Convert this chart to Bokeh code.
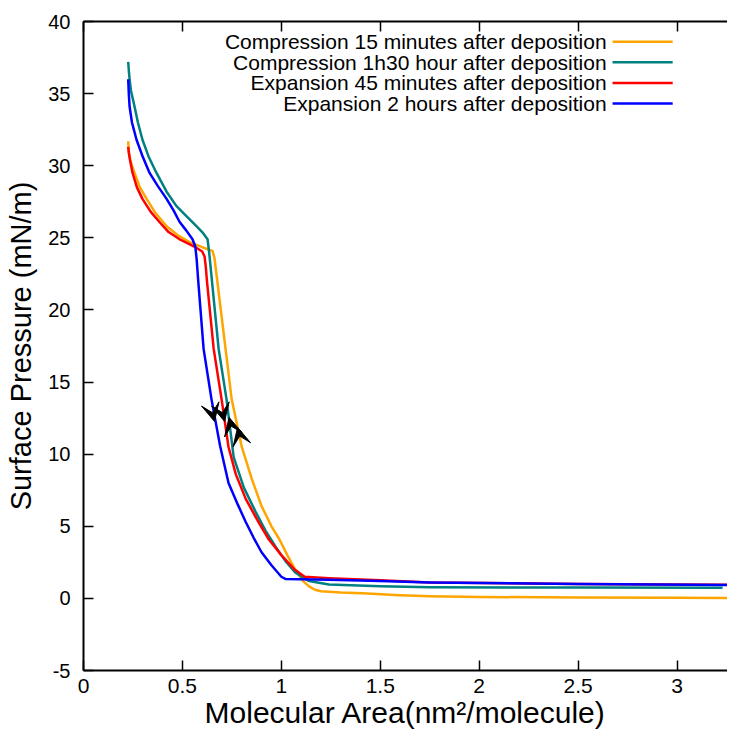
from bokeh.plotting import figure
from bokeh.models import Range1d, LinearAxis, Arrow, VeeHead, FixedTicker, ColumnDataSource
from bokeh.embed import file_html
from bokeh.resources import INLINE
from bokeh.core.properties import value

# ---------------- data ----------------
series_names = [
    "Compression 15 minutes after deposition",
    "Compression 1h30 hour after deposition",
    "Expansion 45 minutes after deposition",
    "Expansion 2 hours after deposition",
]
colors = ["#FFA500", "#008080", "#FF0000", "#0000FF"]

comp15_x = [0.226, 0.229, 0.235, 0.245, 0.258, 0.285, 0.319, 0.365, 0.42, 0.475, 0.536, 0.60,
            0.652, 0.662, 0.718, 0.749, 0.779, 0.80, 0.85, 0.90, 0.95, 0.99,
            1.03, 1.07, 1.11, 1.14, 1.17, 1.20, 1.30, 1.41, 1.60, 1.75, 2.0, 2.5, 3.0, 3.26]
comp15_y = [31.7, 31.0, 30.5, 30.0, 29.5, 28.5, 27.7, 26.7, 25.8, 25.2, 24.7, 24.35,
            24.1, 23.6, 17.3, 13.8, 11.86, 10.5, 8.3, 6.4, 5.0, 4.1,
            3.0, 2.0, 1.2, 0.83, 0.6, 0.5, 0.4, 0.35, 0.22, 0.15, 0.1, 0.06, 0.04, 0.03]

comp90_x = [0.226, 0.229, 0.233, 0.24, 0.258, 0.275, 0.298, 0.33, 0.369, 0.42, 0.47, 0.52,
            0.572, 0.60, 0.627, 0.635, 0.683, 0.723, 0.759, 0.81, 0.87, 0.92, 0.97, 1.02,
            1.07, 1.14, 1.24, 1.50, 1.75, 2.5, 3.23]
comp90_y = [37.2, 36.6, 36.0, 35.2, 34.1, 33.0, 31.8, 30.6, 29.5, 28.2, 27.2, 26.5,
            25.8, 25.4, 24.9, 24.0, 17.3, 13.8, 9.8, 7.7, 6.0, 4.7, 3.6, 2.6,
            1.8, 1.2, 0.97, 0.85, 0.77, 0.75, 0.74]

exp45_x = [0.226, 0.229, 0.235, 0.248, 0.27, 0.298, 0.34, 0.384, 0.43, 0.486, 0.53, 0.572,
           0.60, 0.612, 0.618, 0.624, 0.658, 0.698, 0.733, 0.77, 0.82, 0.88, 0.936,
           1.0, 1.067, 1.118, 1.24, 1.50, 1.75, 2.5, 3.26]
exp45_y = [31.3, 30.9, 30.4, 29.5, 28.5, 27.7, 26.8, 26.1, 25.4, 24.9, 24.6, 24.3,
           24.05, 23.7, 23.0, 22.0, 17.3, 13.8, 10.5, 8.6, 6.9, 5.4, 4.1,
           3.0, 2.0, 1.5, 1.4, 1.25, 1.1, 1.0, 0.95]

exp120_x = [0.226, 0.229, 0.233, 0.245, 0.268, 0.30, 0.334, 0.375, 0.42, 0.455, 0.486, 0.52,
            0.551, 0.565, 0.572, 0.580, 0.607, 0.647, 0.69, 0.733, 0.78, 0.82,
            0.86, 0.90, 0.95, 1.0, 1.02, 1.24, 1.50, 1.75, 2.5, 3.26]
exp120_y = [36.0, 35.0, 34.1, 33.0, 31.8, 30.6, 29.5, 28.6, 27.7, 26.9, 26.1, 25.5,
            24.9, 24.4, 23.5, 22.0, 17.3, 13.8, 10.6, 8.0, 6.5, 5.3,
            4.2, 3.2, 2.3, 1.5, 1.35, 1.3, 1.2, 1.1, 1.0, 0.92]

# direction arrows (tip and tail along each curve)
arrow_tip_x = [0.662, 0.713, 0.736, 0.779]
arrow_tip_y = [12.27, 12.27, 12.55, 11.86]
arrow_tail_x = [0.627, 0.678, 0.771, 0.814]
arrow_tail_y = [14.27, 14.27, 10.55, 9.86]

x_ticks = [0, 0.5, 1, 1.5, 2, 2.5, 3]
x_tick_labels = ["0", "0.5", "1", "1.5", "2", "2.5", "3"]
y_ticks = [-5, 0, 5, 10, 15, 20, 25, 30, 35, 40]
y_tick_labels = ["-5", "0", "5", "10", "15", "20", "25", "30", "35", "40"]

x_title = "Molecular Area(nm\u00b2/molecule)"
y_title = "Surface Pressure (mN/m)"

# legend layout (data units)
legend_y = [38.6, 37.17, 35.74, 34.31]
legend_text_x = 2.644
legend_line_x0 = 2.674
legend_line_x1 = 2.978

FONT = "Liberation Sans"

# ---------------- figure ----------------
p = figure(width=727, height=737, output_backend="svg", toolbar_location=None,
           x_range=Range1d(0, 3.255), y_range=Range1d(-5, 40),
           min_border_left=83, min_border_top=21, min_border_bottom=67, min_border_right=0,
           background_fill_color="white", border_fill_color="white")
p.outline_line_color = None
p.grid.visible = False

all_x = [comp15_x, comp90_x, exp45_x, exp120_x]
all_y = [comp15_y, comp90_y, exp45_y, exp120_y]
for xs, ys, c in zip(all_x, all_y, colors):
    p.line(xs, ys, line_color=c, line_width=2.5, line_join="round")

for tx, ty, sx, sy in zip(arrow_tip_x, arrow_tip_y, arrow_tail_x, arrow_tail_y):
    p.add_layout(Arrow(end=VeeHead(size=18, fill_color="black", line_color="black", line_width=1),
                       x_start=sx, y_start=sy, x_end=tx, y_end=ty, line_alpha=0))

# legend drawn manually: text right-aligned, sample line on the right
leg = ColumnDataSource(dict(
    x=[legend_text_x] * len(series_names), y=legend_y, text=series_names,
    x0=[legend_line_x0] * len(series_names), x1=[legend_line_x1] * len(series_names),
    color=colors))
p.text(x="x", y="y", text="text", source=leg, text_align="right", text_baseline="middle",
       text_font=value(FONT), text_font_size="21px", text_color="black")
p.segment(x0="x0", y0="y", x1="x1", y1="y", source=leg, line_color="color", line_width=2.5)

# axes
xa = p.xaxis[0]
xa.ticker = FixedTicker(ticks=x_ticks)
xa.major_label_overrides = dict(zip(x_ticks, x_tick_labels))
ya = p.yaxis[0]
ya.ticker = FixedTicker(ticks=y_ticks)
ya.major_label_overrides = dict(zip(y_ticks, y_tick_labels))

for ax in (xa, ya):
    ax.axis_line_width = 2
    ax.axis_line_color = "black"
    ax.major_tick_in = 10
    ax.major_tick_out = 0
    ax.major_tick_line_width = 1.5
    ax.major_tick_line_color = "black"
    ax.minor_tick_line_color = None
    ax.major_label_text_color = "black"
    ax.major_label_text_font = FONT
    ax.axis_label_text_font = FONT
    ax.axis_label_text_font_style = "normal"
    ax.axis_label_text_color = "black"

xa.major_label_text_font_size = "21px"
xa.major_label_standoff = 8
xa.axis_label = x_title
xa.axis_label_text_font_size = "30px"
xa.axis_label_standoff = 0

ya.major_label_text_font_size = "20px"
ya.major_label_standoff = 13
ya.axis_label = y_title
ya.axis_label_text_font_size = "29px"
ya.axis_label_standoff = 8

top = LinearAxis(ticker=FixedTicker(ticks=x_ticks), major_label_text_font_size="1px",
                 major_label_text_color=None, major_label_text_alpha=0,
                 major_tick_in=10, major_tick_out=0, major_tick_line_width=1.5,
                 axis_line_width=2, minor_tick_line_color=None)
p.add_layout(top, "above")

open("out.html", "w").write(file_html(p, INLINE))
